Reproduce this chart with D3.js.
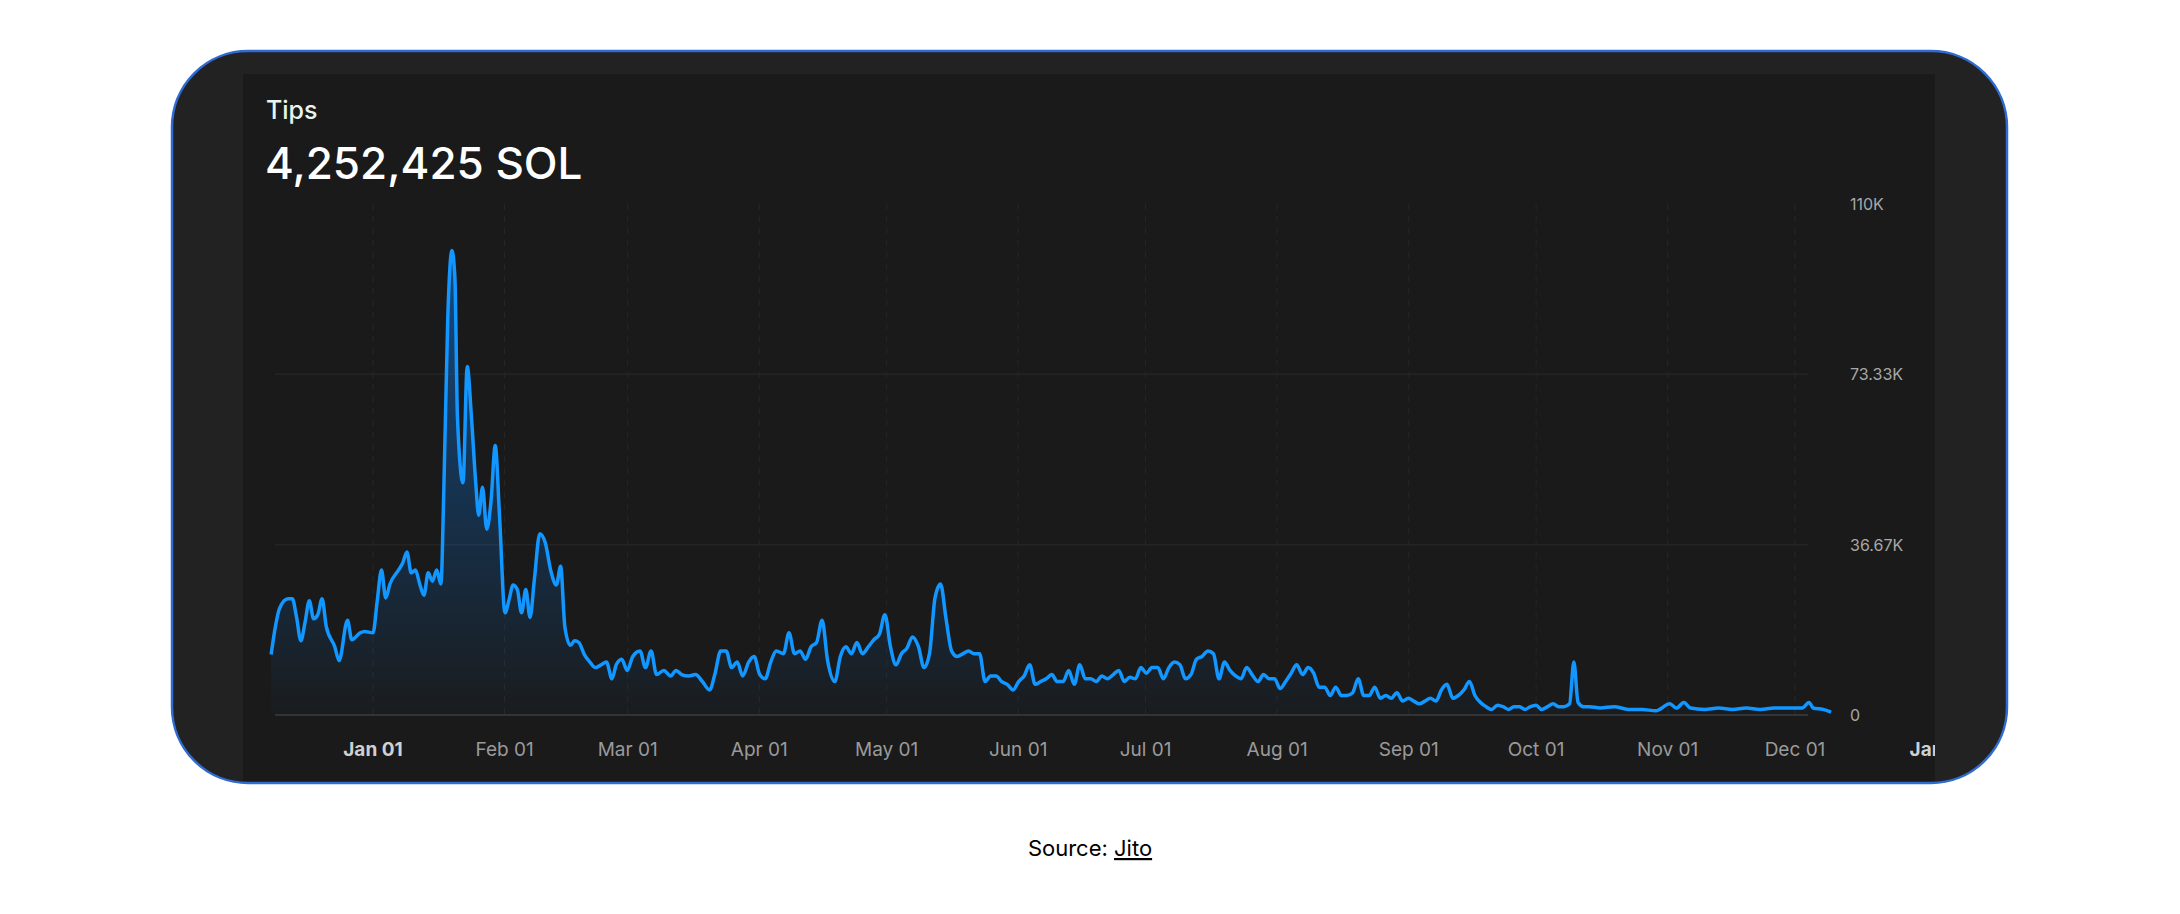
<!DOCTYPE html>
<html><head><meta charset="utf-8">
<script src="https://cdn.jsdelivr.net/npm/d3@7"></script>
<style>body{margin:0;background:#fff;font-family:Inter,"Noto Sans",sans-serif}</style>
</head><body><svg id="c" width="2180" height="914"></svg>
<script>
const startDate = "2023-12-08";
// [days since start, tips in thousands of SOL]
const dayOffsets = [0,1,2,4,5,6,7,8,9,10,11,12,13,15,16,18,19,21,22,24,25,26,27,28,30,31,32,33,34,35,36,37,38,39,40,40.7,41.6,42.6,43.3,43.9,45.2,46.2,47.2,48.2,48.9,49.8,50.8,51.8,52.8,53.8,55.1,56.1,57,58,59,60,61,62,63.3,64.6,65.9,67.2,68.2,69.2,70.5,71.5,72.5,73.8,75.1,76.4,77.7,79,80.3,81.3,82.6,83.9,85.2,86.9,88.2,89.5,90.8,92.5,94.1,95.4,96.7,98.4,100,101.6,103.3,104.6,105.9,107.2,108.5,109.8,111.1,112.5,113.8,115.1,116.4,117.7,119,120.7,122,123.3,124.6,125.9,127.2,128.5,129.8,131.1,132.8,134.1,135.4,136.7,138,139.3,140.7,142,143.3,144.6,145.9,147.2,148.5,149.8,151.1,152.5,153.8,155.1,156.4,157.7,159,160.3,161.6,163,164.3,165.6,166.9,168.2,169.5,170.8,172.1,173.4,174.8,176.1,177.4,178.7,180,181.3,182.6,183.9,185.2,186.6,187.9,189.2,190.5,191.8,193.1,194.4,195.7,197,198.4,199.7,201,202.3,203.6,204.9,206.2,207.5,208.9,210.2,211.5,212.8,214.1,215.4,216.7,218,219.3,220.7,222,223.3,224.6,225.9,227.2,228.5,229.8,231.1,232.5,233.8,235.1,236.4,237.7,239,240.3,241.6,243,244.3,245.6,246.9,248.2,249.5,250.8,252.1,253.4,254.8,256.1,257.4,258.7,260,261.3,262.6,263.9,265.2,266.6,267.9,269.2,270.5,271.8,273.1,274.4,275.7,277,278.4,279.7,281,282.3,283.6,284.9,286.2,287.5,288.9,290.2,291.5,292.8,294.1,295.4,296.7,298,299.3,300.7,302,303.3,304.6,305.9,306.9,307.9,309.2,310.5,313.1,316.4,319.7,323,326.2,329.5,331.1,332.8,334.4,337.7,341,344.3,347.5,350.8,354.1,357.4,360.7,362.3,363.3,365.6,367.5];
const tipsK = [13,19,23,25,25,21,16,20,24.6,20.7,21.6,25,19,14.7,11.7,20.4,16.2,17.7,18,17.7,24.6,31.2,25.2,28.2,31.2,32.7,35.1,30.6,31.2,28.2,25.8,30.6,28.8,31.2,28.2,49,85,100,94,64,50,75,64,50,43,49,40,46,58,43,22,25,28,27,22,27,21,29,39,37,31,28,32,19,15,16,15.6,13,11.4,10.2,10.8,11.4,7.8,10.8,12,9.6,12.6,13.8,10.2,13.8,8.7,9.6,8.4,9.6,8.7,8.4,8.7,7.2,5.4,9,13.8,13.8,10.2,11.4,8.4,11.4,12.6,8.7,7.8,11.4,13.8,13.2,17.7,13.2,13.8,12,14.7,15.6,20.4,11.7,7.2,12.6,14.7,13.2,15.6,13.2,14.7,16.2,17.4,21.6,14.7,10.8,13.2,14.4,16.8,14.7,10.2,13.2,25.2,28.2,20.7,13.8,12.6,13.2,13.8,13.2,13.2,7.2,8.4,8.4,7.2,6.6,5.4,7.2,8.4,10.8,6.6,7.2,7.8,8.7,7.2,7.2,9.6,6.6,10.8,7.8,7.8,7.2,8.4,7.8,8.7,9.6,7.2,8.1,7.8,10.2,9,10.2,10.2,7.8,10.2,11.4,10.8,7.8,8.7,12,12.6,13.8,13.2,7.8,11.4,9.6,8.4,7.8,10.2,8.7,7.2,8.7,7.8,7.8,5.7,7.2,9,10.8,8.7,10.2,9,6,6,4.2,6,4.2,4.2,4.8,7.8,4.2,4.2,6,3.6,4.2,3.6,4.8,3,3.6,3,2.4,3,3.6,3,5.4,6.6,3.6,4.2,5.4,7.2,4.2,2.7,1.8,1.2,2.1,1.8,1.2,1.8,1.8,1.2,1.8,2.1,1.2,1.8,2.4,1.8,1.8,2.4,11.4,2.7,1.8,1.8,1.5,1.8,1.2,1.2,0.9,2.4,1.5,2.7,1.5,1.2,1.5,1.2,1.5,1.2,1.5,1.5,1.5,2.7,1.5,1.2,0.6];
const monthTicks = ["2024-01-01","2024-02-01","2024-03-01","2024-04-01","2024-05-01","2024-06-01","2024-07-01","2024-08-01","2024-09-01","2024-10-01","2024-11-01","2024-12-01","2025-01-01"];
const monthLabels = ["Jan 01","Feb 01","Mar 01","Apr 01","May 01","Jun 01","Jul 01","Aug 01","Sep 01","Oct 01","Nov 01","Dec 01","Jan"];
const yTicks = [0,36670,73330,110000];
const yLabels = ["0","36.67K","73.33K","110K"];

const svg = d3.select("#c");
const t0 = new Date(startDate+"T00:00:00Z").getTime();
const data = dayOffsets.map((d,i)=>({date:new Date(t0+d*864e5), v:tipsK[i]*1000}));

const x = d3.scaleUtc().domain([new Date("2024-01-01T00:00:00Z"), new Date("2024-12-01T00:00:00Z")]).range([373,1795]);
const y = d3.scaleLinear().domain([0,110000]).range([715,204]);

const defs = svg.append("defs");
defs.append("clipPath").attr("id","outer").append("rect").attr("x",172).attr("y",51).attr("width",1835).attr("height",732).attr("rx",76);
defs.append("clipPath").attr("id","panel").append("rect").attr("x",243).attr("y",74).attr("width",1692).attr("height",709);
const g = defs.append("linearGradient").attr("id","ag").attr("x1",0).attr("x2",0).attr("y1",0).attr("y2",1);
g.append("stop").attr("offset","0%").attr("stop-color","#0a84ff").attr("stop-opacity",0.45);
g.append("stop").attr("offset","100%").attr("stop-color","#0a84ff").attr("stop-opacity",0.02);

svg.append("rect").attr("x",172).attr("y",51).attr("width",1835).attr("height",732).attr("rx",76).attr("fill","#222");
const inner = svg.append("g").attr("clip-path","url(#outer)");
inner.append("rect").attr("x",243).attr("y",74).attr("width",1692).attr("height",709).attr("fill","#1a1a1a");
svg.append("rect").attr("x",172).attr("y",51).attr("width",1835).attr("height",732).attr("rx",76).attr("fill","none").attr("stroke","#2f6bd0").attr("stroke-width",2.5);

const p = inner.append("g").attr("clip-path","url(#panel)");
p.selectAll(".vg").data(monthTicks.slice(0,12)).join("line")
 .attr("x1",d=>x(new Date(d+"T00:00:00Z"))).attr("x2",d=>x(new Date(d+"T00:00:00Z")))
 .attr("y1",204).attr("y2",715).attr("stroke","#262626").attr("stroke-dasharray","6,6");
p.selectAll(".hg").data(yTicks.slice(0,3)).join("line")
 .attr("x1",275).attr("x2",1808).attr("y1",d=>y(d)).attr("y2",d=>y(d))
 .attr("stroke",d=>d===0?"#333":"#242424").attr("stroke-width",d=>d===0?2:1.5);

const area = d3.area().x(d=>x(d.date)).y0(y(0)).y1(d=>y(d.v)).curve(d3.curveMonotoneX);
const line = d3.line().x(d=>x(d.date)).y(d=>y(d.v)).curve(d3.curveMonotoneX);
p.append("path").datum(data).attr("d",area).attr("fill","url(#ag)");
p.append("path").datum(data).attr("d",line).attr("fill","none").attr("stroke","#1296ff").attr("stroke-width",3.5).attr("stroke-linejoin","round");

p.selectAll(".yl").data(yTicks).join("text").attr("x",1850).attr("y",d=>y(d)+6)
 .attr("fill","#a8a8a8").attr("font-size",16).text((d,i)=>yLabels[i]);
p.selectAll(".xl").data(monthTicks).join("text")
 .attr("x",d=>x(new Date(d+"T00:00:00Z"))).attr("y",756).attr("text-anchor","middle")
 .attr("font-size",19).attr("fill",(d,i)=>monthLabels[i].startsWith("Jan")?"#d0d0d0":"#9a9a9a")
 .attr("font-weight",(d,i)=>monthLabels[i].startsWith("Jan")?700:400)
 .text((d,i)=>monthLabels[i]);

p.append("text").attr("x",266).attr("y",119).attr("fill","#e8f4ef").attr("font-size",25).attr("font-weight",500).text("Tips");
p.append("text").attr("x",265).attr("y",179).attr("fill","#fff").attr("font-size",44).attr("font-weight",500).text("4,252,425 SOL");

const src = svg.append("text").attr("x",1090).attr("y",856).attr("text-anchor","middle").attr("font-size",22).attr("fill","#000");
src.append("tspan").text("Source: ");
src.append("tspan").attr("text-decoration","underline").text("Jito");
</script></body></html>
